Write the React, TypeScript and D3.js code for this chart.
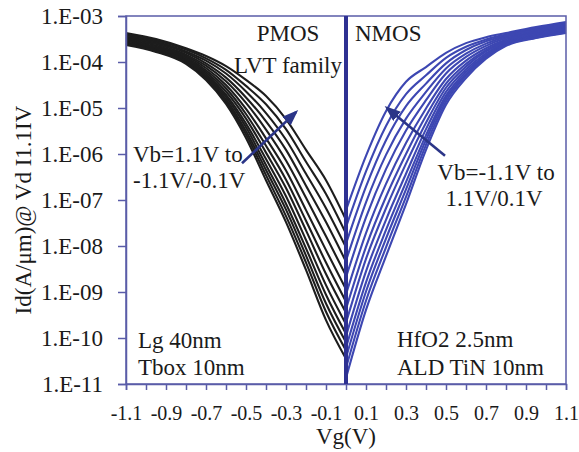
import * as d3 from "d3";
import { useEffect, useRef } from "react";

// gate voltage sample points (V)
const vgPmos = [-1.1, -0.95, -0.8, -0.7, -0.6, -0.5, -0.4, -0.3, -0.2, -0.1, 0];
const vgNmos = [0, 0.1, 0.2, 0.3, 0.4, 0.5, 0.6, 0.7, 0.8, 0.95, 1.1];

// log10(Id) per back-bias curve
const pmosLogId = [
  [-3.37, -3.5, -3.7, -3.87, -4.09, -4.39, -4.74, -5.24, -5.91, -6.57, -7.43],
  [-3.4, -3.53, -3.73, -3.92, -4.17, -4.52, -4.92, -5.46, -6.17, -6.87, -7.73],
  [-3.42, -3.56, -3.77, -3.97, -4.25, -4.64, -5.11, -5.69, -6.43, -7.18, -8.03],
  [-3.45, -3.58, -3.8, -4.03, -4.34, -4.77, -5.29, -5.91, -6.69, -7.48, -8.34],
  [-3.47, -3.61, -3.84, -4.08, -4.42, -4.89, -5.47, -6.14, -6.95, -7.79, -8.64],
  [-3.5, -3.64, -3.87, -4.13, -4.5, -5.02, -5.66, -6.36, -7.22, -8.09, -8.94],
  [-3.52, -3.67, -3.9, -4.18, -4.57, -5.13, -5.82, -6.56, -7.45, -8.36, -9.21],
  [-3.54, -3.69, -3.93, -4.22, -4.64, -5.23, -5.97, -6.74, -7.66, -8.61, -9.45],
  [-3.57, -3.71, -3.96, -4.26, -4.71, -5.34, -6.11, -6.92, -7.87, -8.85, -9.7],
  [-3.58, -3.73, -3.98, -4.3, -4.76, -5.42, -6.24, -7.08, -8.05, -9.06, -9.91],
  [-3.6, -3.75, -4.0, -4.33, -4.81, -5.5, -6.35, -7.21, -8.21, -9.25, -10.09],
  [-3.61, -3.76, -4.02, -4.36, -4.86, -5.57, -6.46, -7.35, -8.36, -9.43, -10.27],
  [-3.63, -3.78, -4.04, -4.39, -4.91, -5.65, -6.57, -7.48, -8.52, -9.61, -10.45],
];

const nmosLogId = [
  [-7.22, -6.04, -5.07, -4.43, -4.11, -3.8, -3.59, -3.46, -3.37, -3.24, -3.13],
  [-7.59, -6.38, -5.39, -4.7, -4.29, -3.91, -3.67, -3.51, -3.4, -3.26, -3.15],
  [-7.95, -6.71, -5.7, -4.96, -4.47, -4.03, -3.74, -3.55, -3.43, -3.29, -3.18],
  [-8.32, -7.05, -6.02, -5.23, -4.65, -4.14, -3.82, -3.6, -3.45, -3.31, -3.2],
  [-8.68, -7.38, -6.33, -5.49, -4.83, -4.25, -3.89, -3.65, -3.48, -3.34, -3.23],
  [-9.05, -7.72, -6.65, -5.76, -5.01, -4.37, -3.97, -3.7, -3.51, -3.36, -3.25],
  [-9.37, -8.02, -6.93, -6.0, -5.17, -4.47, -4.04, -3.74, -3.54, -3.38, -3.27],
  [-9.67, -8.28, -7.18, -6.21, -5.32, -4.56, -4.1, -3.77, -3.56, -3.4, -3.29],
  [-9.96, -8.55, -7.43, -6.43, -5.46, -4.65, -4.16, -3.81, -3.58, -3.42, -3.31],
  [-10.21, -8.79, -7.65, -6.61, -5.59, -4.73, -4.21, -3.85, -3.6, -3.44, -3.33],
  [-10.43, -8.99, -7.84, -6.77, -5.69, -4.79, -4.26, -3.87, -3.62, -3.45, -3.34],
  [-10.65, -9.19, -8.03, -6.93, -5.8, -4.86, -4.3, -3.9, -3.63, -3.47, -3.36],
  [-10.87, -9.39, -8.22, -7.09, -5.91, -4.93, -4.35, -3.93, -3.65, -3.48, -3.37],
];

const yTickValues = [1e-3, 1e-4, 1e-5, 1e-6, 1e-7, 1e-8, 1e-9, 1e-10, 1e-11];
const yTickLabels = ["1.E-03", "1.E-04", "1.E-05", "1.E-06", "1.E-07", "1.E-08", "1.E-09", "1.E-10", "1.E-11"];
const xTickLabels = ["-1.1", "-0.9", "-0.7", "-0.5", "-0.3", "-0.1", "0.1", "0.3", "0.5", "0.7", "0.9", "1.1"];

// arrows [Vg, log10 Id] tail -> head
const pmosArrow = [[-0.52, -6.2], [-0.25, -5.09]];
const nmosArrow = [[0.495, -6.04], [0.205, -5.0]];

const W = 579;
const H = 452;
const margin = { left: 126, right: 13, top: 16, bottom: 68 };
const font = "'Liberation Serif', 'Times New Roman', serif";
const axisColor = "#5a5ca8";

export default function App() {
  const svgRef = useRef<SVGSVGElement>(null);

  useEffect(() => {
    const svg = d3.select(svgRef.current);
    svg.selectAll("*").remove();

    const x = d3.scaleLinear().domain([-1.1, 1.1]).range([margin.left, W - margin.right]);
    const y = d3.scaleLog().domain([1e-11, 1e-3]).range([H - margin.bottom, margin.top]);

    svg.append("rect").attr("width", W).attr("height", H).attr("fill", "#fff");

    const defs = svg.append("defs");
    defs
      .append("marker")
      .attr("id", "head")
      .attr("markerUnits", "userSpaceOnUse")
      .attr("markerWidth", 16)
      .attr("markerHeight", 12)
      .attr("refX", 13)
      .attr("refY", 6)
      .attr("orient", "auto")
      .append("path")
      .attr("d", "M0,0 L16,6 L0,12 z")
      .attr("fill", "#2b3588");

    // curves
    const line = d3
      .line<[number, number]>()
      .x((d) => x(d[0]))
      .y((d) => y(Math.pow(10, d[1])))
      .curve(d3.curveMonotoneX);

    pmosLogId.forEach((c) => {
      svg
        .append("path")
        .attr("fill", "none")
        .attr("stroke", "#1d1d1d")
        .attr("stroke-width", 2.1)
        .attr("d", line(c.map((v, i) => [vgPmos[i], v] as [number, number])));
    });
    nmosLogId.forEach((c) => {
      svg
        .append("path")
        .attr("fill", "none")
        .attr("stroke", "#3d47b2")
        .attr("stroke-width", 2.1)
        .attr("d", line(c.map((v, i) => [vgNmos[i], v] as [number, number])));
    });

    // frame
    svg
      .append("rect")
      .attr("x", x(-1.1))
      .attr("y", y(1e-3))
      .attr("width", x(1.1) - x(-1.1))
      .attr("height", y(1e-11) - y(1e-3))
      .attr("fill", "none")
      .attr("stroke", axisColor)
      .attr("stroke-width", 1.5);

    // Y-Axis
    const yAxis = svg
      .append("g")
      .attr("transform", `translate(${x(-1.1)},0)`)
      .call(
        d3
          .axisLeft(y)
          .tickValues(yTickValues)
          .tickSize(8)
          .tickPadding(15)
          .tickFormat((_, i) => yTickLabels[i])
      );

    // X-Axis
    const xTicks = d3.range(-11, 12).map((i) => i / 10);
    const xAxis = svg
      .append("g")
      .attr("transform", `translate(0,${y(1e-11)})`)
      .call(
        d3
          .axisBottom(x)
          .tickValues(xTicks)
          .tickSize(6)
          .tickPadding(16)
          .tickFormat((_, i) => (i % 2 === 0 ? xTickLabels[i / 2] : ""))
      );

    [yAxis, xAxis].forEach((g) => {
      g.select(".domain").attr("stroke", axisColor).attr("stroke-width", 1.5);
      g.selectAll(".tick line").attr("stroke", axisColor).attr("stroke-width", 1.5);
      g.selectAll(".tick text")
        .attr("fill", "#1a1a1a")
        .style("font-family", font)
        .style("font-size", "23px");
    });
    xAxis.selectAll(".tick text").style("font-size", "20px");

    // Vg = 0 divider
    svg
      .append("line")
      .attr("x1", x(0))
      .attr("x2", x(0))
      .attr("y1", y(1e-3))
      .attr("y2", y(1e-11))
      .attr("stroke", "#2e3192")
      .attr("stroke-width", 4);

    // arrows
    [pmosArrow, nmosArrow].forEach((a) => {
      svg
        .append("line")
        .attr("x1", x(a[0][0]))
        .attr("y1", y(Math.pow(10, a[0][1])))
        .attr("x2", x(a[1][0]))
        .attr("y2", y(Math.pow(10, a[1][1])))
        .attr("stroke", "#2b3588")
        .attr("stroke-width", 2.6)
        .attr("marker-end", "url(#head)");
    });

    // labels
    const label = (tx: number, ty: number, s: string, anchor = "start") =>
      svg
        .append("text")
        .attr("x", tx)
        .attr("y", ty)
        .attr("text-anchor", anchor)
        .attr("fill", "#1a1a1a")
        .style("font-family", font)
        .style("font-size", "23px")
        .text(s);

    label(288, 41, "PMOS", "middle");
    label(288, 73, "LVT family", "middle");
    label(355, 41, "NMOS");
    label(133, 162, "Vb=1.1V to");
    label(133, 188, "-1.1V/-0.1V");
    label(496, 180, "Vb=-1.1V to", "middle");
    label(494, 206, "1.1V/0.1V", "middle");
    label(138, 348, "Lg 40nm");
    label(138, 375, "Tbox 10nm");
    label(397, 347, "HfO2 2.5nm");
    label(397, 375, "ALD TiN 10nm");
    label(x(0), 444, "Vg(V)", "middle");

    svg
      .append("text")
      .attr("transform", `translate(31,${(y(1e-3) + y(1e-11)) / 2 + 10}) rotate(-90)`)
      .attr("text-anchor", "middle")
      .attr("fill", "#1a1a1a")
      .style("font-family", font)
      .style("font-size", "23px")
      .text("Id(A/μm)@ Vd I1.1IV");
  }, []);

  return (
    <svg
      ref={svgRef}
      width={W}
      height={H}
      style={{ position: "absolute", left: 0, top: 0 }}
    />
  );
}
